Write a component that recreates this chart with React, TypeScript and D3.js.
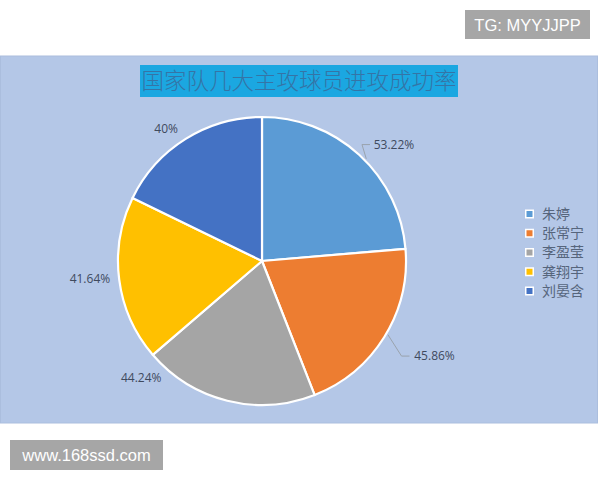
import React from "react";
import * as d3 from "d3";

// Players and their attack success rates (%)
const players = ["朱婷", "张常宁", "李盈莹", "龚翔宇", "刘晏含"];
const rates = [53.22, 45.86, 44.24, 41.64, 40];
const rateLabels = ["53.22%", "45.86%", "44.24%", "41.64%", "40%"];
const sliceColors = ["#5b9bd5", "#ed7d31", "#a5a5a5", "#ffc000", "#4472c4"];

// Label placement: angle offset (deg) from slice middle and distance from centre
const labelShift = [6, -3, 32, 1.5, -4];
const labelDist = [176, 197, 168, 173, 163];
const hasLeader = [true, true, false, false, false];

const W = 600;
const H = 480;
const cx = 262;
const cy = 261;
const R = 144;

export default function App() {
  const pie = d3
    .pie<number>()
    .sort(null)
    .value((d) => d);
  const arcs = pie(rates);
  const arcGen = d3
    .arc<d3.PieArcDatum<number>>()
    .innerRadius(0)
    .outerRadius(R);

  const polar = (angDeg: number, r: number): [number, number] => {
    const a = (angDeg * Math.PI) / 180;
    return [Math.sin(a) * r, -Math.cos(a) * r];
  };

  const legendY = d3
    .scalePoint<string>()
    .domain(players)
    .range([214, 291]);

  return (
    <svg
      width={W}
      height={H}
      style={{ position: "absolute", left: 0, top: 0, background: "#ffffff" }}
    >
      {/* chart area */}
      <rect x={0.5} y={56} width={597} height={367} fill="#b4c7e7" stroke="#abbede" />

      {/* title */}
      <rect x={140} y={65} width={318} height={32} fill="#1ba7e1" />
      <text
        x={299}
        y={88.5}
        textAnchor="middle"
        fontFamily="'Noto Sans CJK SC', sans-serif"
        fontSize={22.5}
        fontWeight={300}
        fill="#3574a6"
      >
        国家队几大主攻球员进攻成功率
      </text>

      {/* pie */}
      <g transform={`translate(${cx},${cy})`}>
        {arcs.map((a, i) => (
          <path
            key={players[i]}
            d={arcGen(a) || ""}
            fill={sliceColors[i]}
            stroke="#ffffff"
            strokeWidth={2.2}
            strokeLinejoin="round"
          />
        ))}
        {arcs.map((a, i) => {
          const mid = (((a.startAngle + a.endAngle) / 2) * 180) / Math.PI;
          const ang = mid + labelShift[i];
          const [lx, ly] = polar(ang, labelDist[i]);
          const elems: React.ReactNode[] = [];
          if (hasLeader[i]) {
            const [ex, ey] = polar(mid + labelShift[i] * 0.5, R + 2);
            const tx = lx - (i === 0 ? 24 : 25);
            const elbowX = tx - 8;
            elems.push(
              <path
                key="leader"
                d={`M${ex},${ey} L${elbowX},${ly} L${tx},${ly}`}
                fill="none"
                stroke="#9aa3ad"
                strokeWidth={1}
              />
            );
          }
          elems.push(
            <text
              key="label"
              x={lx}
              y={ly}
              dy="0.35em"
              textAnchor="middle"
              fontFamily="'Open Sans', 'Liberation Sans', sans-serif"
              fontSize={12}
              fill="#3f4a5e"
            >
              {rateLabels[i]}
            </text>
          );
          return <g key={players[i]}>{elems}</g>;
        })}
      </g>

      {/* legend */}
      {players.map((p, i) => {
        const y = legendY(p) as number;
        return (
          <g key={p}>
            <rect x={525} y={y - 4.5} width={9} height={9} fill="#ffffff" />
            <rect x={526.5} y={y - 3} width={6} height={6} fill={sliceColors[i]} />
            <text
              x={542}
              y={y}
              dy="0.35em"
              fontFamily="'Noto Sans CJK SC', sans-serif"
              fontSize={14}
              fill="#56657c"
            >
              {p}
            </text>
          </g>
        );
      })}

      {/* badges */}
      <rect x={465} y={10} width={125} height={29} fill="#a6a6a6" />
      <text
        x={527.5}
        y={25}
        dy="0.35em"
        textAnchor="middle"
        fontFamily="'Liberation Sans', Arial, sans-serif"
        fontSize={16.5}
        fill="#ffffff"
      >
        TG: MYYJJPP
      </text>
      <rect x={10} y={440} width={153} height={30} fill="#a6a6a6" />
      <text
        x={86.5}
        y={455}
        dy="0.35em"
        textAnchor="middle"
        fontFamily="'Liberation Sans', Arial, sans-serif"
        fontSize={16.5}
        fill="#ffffff"
      >
        www.168ssd.com
      </text>
    </svg>
  );
}
